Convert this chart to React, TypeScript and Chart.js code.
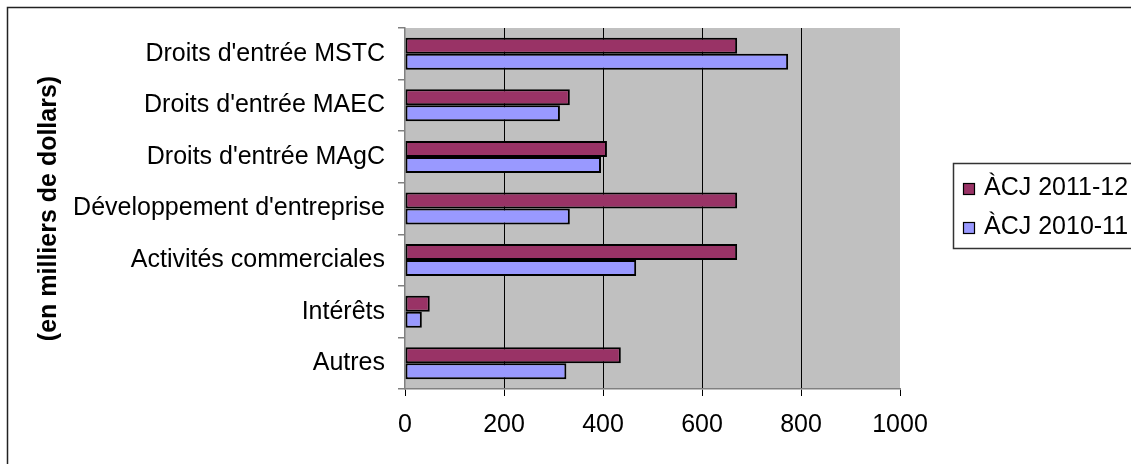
import React, { useEffect, useRef } from "react";
import { Chart, registerables } from "chart.js";

Chart.register(...registerables);

const categories = [
  "Droits d'entrée MSTC",
  "Droits d'entrée MAEC",
  "Droits d'entrée MAgC",
  "Développement d'entreprise",
  "Activités commerciales",
  "Intérêts",
  "Autres",
];
const series2011 = [671, 333, 408, 671, 671, 50, 436];
const series2010 = [774, 313, 396, 333, 467, 34, 326];
const seriesLabels = ["ÀCJ 2011-12", "ÀCJ 2010-11"];
const seriesColors = ["#993366", "#9999FF"];
const xTickValues = [0, 200, 400, 600, 800, 1000];
const axisTitle = "(en milliers de dollars)";

const FONT = "'Liberation Sans', Arial, sans-serif";

const backgroundPlugin = {
  id: "bgPlot",
  beforeDraw(chart: any) {
    const { ctx, chartArea } = chart;
    ctx.save();
    ctx.fillStyle = "#C0C0C0";
    ctx.fillRect(chartArea.left, chartArea.top, chartArea.right - chartArea.left, chartArea.bottom - chartArea.top);
    ctx.strokeStyle = "#222";
    ctx.lineWidth = 1.5;
    ctx.beginPath();
    ctx.moveTo(7.5, chart.height + 2);
    ctx.lineTo(7.5, 7.5);
    ctx.lineTo(chart.width + 2, 7.5);
    ctx.stroke();
    ctx.restore();
  },
};

const legendPlugin = {
  id: "boxLegend",
  afterDraw(chart: any) {
    const { ctx } = chart;
    const left = 953.5;
    const top = 163.5;
    const bottom = 248.5;
    ctx.save();
    ctx.fillStyle = "#fff";
    ctx.fillRect(left, top, chart.width - left + 5, bottom - top);
    ctx.strokeStyle = "#333";
    ctx.lineWidth = 1.5;
    ctx.strokeRect(left, top, chart.width - left + 5, bottom - top);
    ctx.font = `25px ${FONT}`;
    ctx.textBaseline = "middle";
    ctx.textAlign = "left";
    chart.data.datasets.forEach((ds: any, i: number) => {
      const cy = 188 + i * 39;
      ctx.fillStyle = ds.backgroundColor;
      ctx.fillRect(963.5, cy - 4.5, 11, 11);
      ctx.strokeStyle = "#000";
      ctx.lineWidth = 1.2;
      ctx.strokeRect(963.5, cy - 4.5, 11, 11);
      ctx.fillStyle = "#000";
      ctx.fillText(ds.label, 984, cy);
    });
    ctx.restore();
  },
};

export default function App() {
  const canvasRef = useRef<HTMLCanvasElement | null>(null);

  useEffect(() => {
    if (!canvasRef.current) return;
    const chart = new Chart(canvasRef.current, {
      type: "bar",
      data: {
        labels: categories,
        datasets: [
          {
            label: seriesLabels[0],
            data: series2011,
            backgroundColor: seriesColors[0],
            borderColor: "#000",
            borderWidth: 2,
            borderSkipped: false,
            barPercentage: 1,
            categoryPercentage: 0.62,
          },
          {
            label: seriesLabels[1],
            data: series2010,
            backgroundColor: seriesColors[1],
            borderColor: "#000",
            borderWidth: 2,
            borderSkipped: false,
            barPercentage: 1,
            categoryPercentage: 0.62,
          },
        ],
      },
      options: {
        indexAxis: "y",
        animation: false,
        responsive: true,
        maintainAspectRatio: false,
        layout: { padding: { left: 30, top: 26, right: 231, bottom: 0 } },
        plugins: {
          legend: { display: false },
          tooltip: { enabled: false },
        },
        scales: {
          x: {
            type: "linear",
            min: 0,
            max: 1000,
            afterBuildTicks(scale: any) {
              scale.ticks = xTickValues.map((v) => ({ value: v }));
            },
            afterFit(scale: any) {
              scale.height = 75;
            },
            ticks: {
              font: { size: 25, family: FONT },
              color: "#000",
              padding: 14,
              callback: (v: any) => String(v),
            },
            grid: {
              color: (c: any) =>
                c.tick && (c.tick.value === 0 || c.tick.value === 1000) ? "rgba(0,0,0,0)" : "#000",
              tickColor: "#000",
              tickLength: 7,
              lineWidth: 1,
            },
            border: { display: true, color: "#808080", width: 1.5 },
          },
          y: {
            type: "category",
            afterFit(scale: any) {
              scale.width = 375;
            },
            ticks: {
              font: { size: 25, family: FONT },
              color: "#000",
              padding: 13,
              autoSkip: false,
            },
            grid: {
              offset: true,
              drawOnChartArea: false,
              color: "#808080",
              tickLength: 7,
              lineWidth: 1.5,
            },
            border: { display: true, color: "#808080", width: 1.5 },
            title: {
              display: true,
              text: axisTitle,
              color: "#000",
              font: { size: 25, weight: "bold", family: FONT },
              padding: { top: 4, bottom: 0 },
            },
          },
        },
      },
      plugins: [backgroundPlugin, legendPlugin],
    });
    return () => chart.destroy();
  }, []);

  return (
    <div style={{ position: "fixed", left: 0, top: 0, width: 1131, height: 464, background: "#fff" }}>
      <canvas ref={canvasRef} />
    </div>
  );
}
